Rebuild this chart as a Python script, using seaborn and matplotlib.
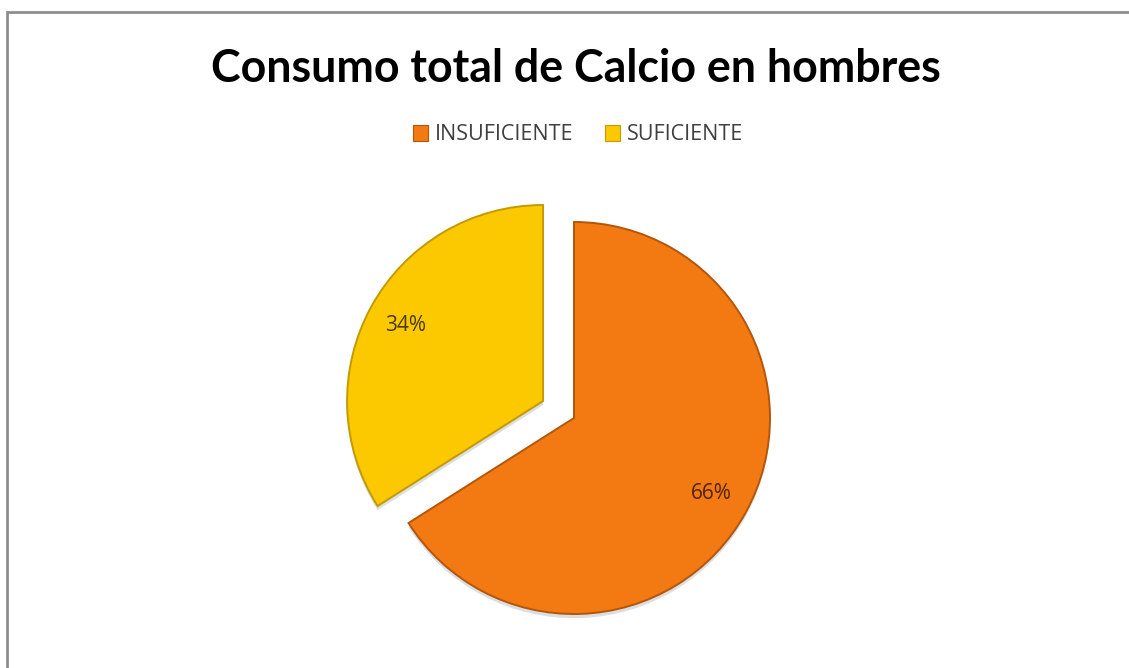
import matplotlib
matplotlib.use("Agg")
import matplotlib.pyplot as plt
import matplotlib.patches as mpatches
import matplotlib.patheffects as pe
import seaborn as sns

# Data
categories = ["INSUFICIENTE", "SUFICIENTE"]
percentages = [66, 34]
title = "Consumo total de Calcio en hombres"

colors = ["#F37A12", "#FCC800"]
edge_colors = ["#B4560A", "#C39A00"]
label_colors = ["#4E2300", "#4A3A00"]

sns.set_theme(style="white")
plt.rcParams["font.family"] = ["Lato", "DejaVu Sans"]

W, H, DPI = 1129, 668, 100
fig = plt.figure(figsize=(W / DPI, H / DPI), dpi=DPI)
fig.patch.set_facecolor("white")

# Chart frame (gray border on top/left)
fig.add_artist(mpatches.Rectangle((7 / W, -0.05), 1.2, (H - 12) / H + 0.05,
                                  transform=fig.transFigure, fill=False,
                                  edgecolor="#8E8E8E", linewidth=2))

# Square axes holding the pie: center (574, 418) px, radius 196 px
R = 196
L = 1.25
side = 2 * L * R
cx, cy = 574, H - 418
ax = fig.add_axes([(cx - side / 2) / W, (cy - side / 2) / H, side / W, side / H])

wedges, texts, autotexts = ax.pie(
    percentages,
    colors=colors,
    startangle=90,
    counterclock=False,
    explode=[0, 0.18],
    autopct="%d%%",
    pctdistance=0.8,
    wedgeprops=dict(linewidth=1.4),
    textprops=dict(fontsize=15, family=["Open Sans", "DejaVu Sans"]),
)
for w, ec in zip(wedges, edge_colors):
    w.set_edgecolor(ec)
    w.set_path_effects([pe.SimplePatchShadow(offset=(0, -3), shadow_rgbFace="#9aa4b0", alpha=0.35),
                        pe.Normal()])
for t, c in zip(autotexts, label_colors):
    t.set_color(c)
ax.set_xlim(-L, L)
ax.set_ylim(-L, L)
ax.set_aspect("equal")
ax.axis("off")

# Title
fig.text(576 / W, 1 - 69 / H, title, ha="center", va="center",
         fontsize=32.2, fontweight="bold", color="black")

# Legend
handles = [mpatches.Patch(facecolor=c, edgecolor=ec, linewidth=0.8, label=n)
           for c, ec, n in zip(colors, edge_colors, categories)]
fig.legend(handles=handles, loc="center", bbox_to_anchor=(578 / W, 1 - 135 / H),
           ncol=2, frameon=False, handlelength=0.7, handleheight=0.7,
           handletextpad=0.3, columnspacing=1.5, labelcolor="#404040",
           prop=dict(family=["Open Sans", "DejaVu Sans"], size=15.5))

fig.savefig("out.png", dpi=DPI, facecolor="white")
